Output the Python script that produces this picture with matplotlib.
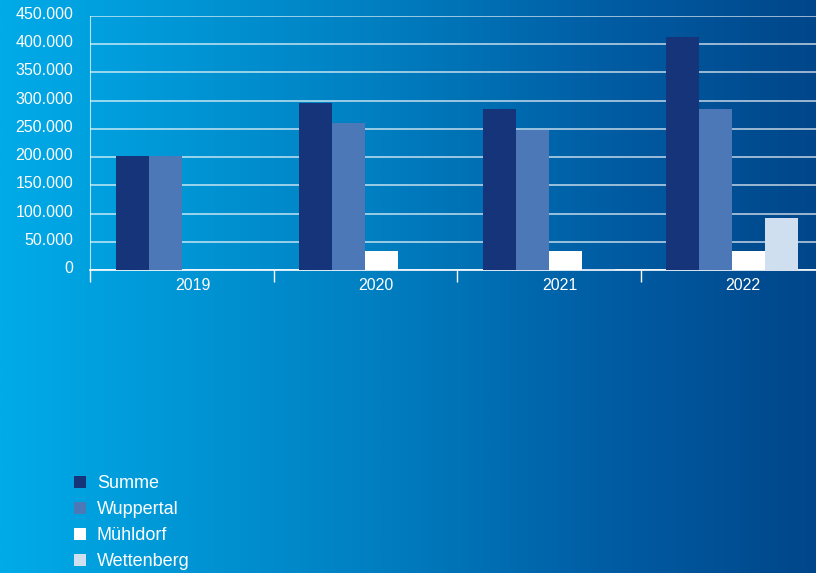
import numpy as np
import matplotlib
matplotlib.use("Agg")
import matplotlib.pyplot as plt
import matplotlib.transforms as mtransforms
from matplotlib.colors import LinearSegmentedColormap
from matplotlib.patches import Patch

plt.rcParams['font.family'] = ['Liberation Sans', 'DejaVu Sans']

years = ["2019", "2020", "2021", "2022"]
series_names = ["Summe", "Wuppertal", "Mühldorf", "Wettenberg"]
summe = [202000, 296000, 285000, 413000]
wuppertal = [202000, 261000, 248000, 286000]
muehldorf = [0, 34000, 34000, 34000]
wettenberg = [0, 0, 2000, 92000]
series_values = [summe, wuppertal, muehldorf, wettenberg]
series_colors = ["#16347a", "#4d78b8", "#ffffff", "#cfdff0"]
y_ticks = [0, 50000, 100000, 150000, 200000, 250000, 300000, 350000, 400000, 450000]
y_labels = ["0", "50.000", "100.000", "150.000", "200.000", "250.000",
            "300.000", "350.000", "400.000", "450.000"]

W, H = 816, 573
fig = plt.figure(figsize=(W / 100, H / 100), dpi=100)

# horizontal blue gradient background
bg = fig.add_axes([0, 0, 1, 1], zorder=0)
cmap = LinearSegmentedColormap.from_list(
    "bg", [(0.0, "#00abe8"), (0.45, "#0080c2"), (0.75, "#005ca3"), (1.0, "#00468a")])
grad = np.linspace(0, 1, 512).reshape(1, -1)
bg.imshow(grad, aspect="auto", cmap=cmap, extent=[0, 1, 0, 1])
bg.set_axis_off()

left, right_px, top, bottom = 90, 824, 16, 270
ax = fig.add_axes([left / W, 1 - bottom / H, (right_px - left) / W, (bottom - top) / H],
                  zorder=1)
ax.set_facecolor("none")

n = len(years)
x = np.arange(n) + 0.5
bw = 0.18
for i, (vals, col) in enumerate(zip(series_values, series_colors)):
    ax.bar(x + (i - 1.5) * bw, vals, width=bw, color=col, zorder=3, linewidth=0)

ax.set_xlim(0, n)
ax.set_ylim(0, 450000)
ax.set_yticks(y_ticks)
ax.set_yticklabels(y_labels)
ax.yaxis.grid(True, color="white", alpha=0.7, linewidth=1.2, zorder=1)
ax.tick_params(axis="y", length=0, labelsize=11.5, labelcolor="white", pad=12)
up = mtransforms.ScaledTranslation(0, 0.03, fig.dpi_scale_trans)
for lbl in ax.get_yticklabels():
    lbl.set_transform(lbl.get_transform() + up)

ax.set_xticks(np.arange(n + 1))
ax.set_xticklabels([""] * (n + 1))
ax.set_xticks(x, minor=True)
ax.set_xticklabels(years, minor=True)
ax.tick_params(axis="x", which="major", length=8.5, color="white", width=1)
ax.tick_params(axis="x", which="minor", length=0, labelsize=11.5, labelcolor="white", pad=5.5)
shift = mtransforms.ScaledTranslation(0.11, 0, fig.dpi_scale_trans)
for lbl in ax.get_xticklabels(minor=True):
    lbl.set_transform(lbl.get_transform() + shift)

for side in ["top", "right"]:
    ax.spines[side].set_visible(False)
ax.spines["left"].set_color("white")
ax.spines["left"].set_alpha(0.7)
ax.spines["bottom"].set_color("white")
ax.spines["bottom"].set_linewidth(1.2)

handles = [Patch(facecolor=c, edgecolor="none") for c in series_colors]
leg = fig.legend(handles, series_names, loc="upper left",
                 bbox_to_anchor=(74 / W, 1 - 475 / H), frameon=False,
                 borderpad=0, borderaxespad=0,
                 fontsize=13, handlelength=0.66, handleheight=0.66,
                 handletextpad=0.6, labelspacing=0.5)
for t in leg.get_texts():
    t.set_color("white")

fig.savefig("out.png", dpi=100)
